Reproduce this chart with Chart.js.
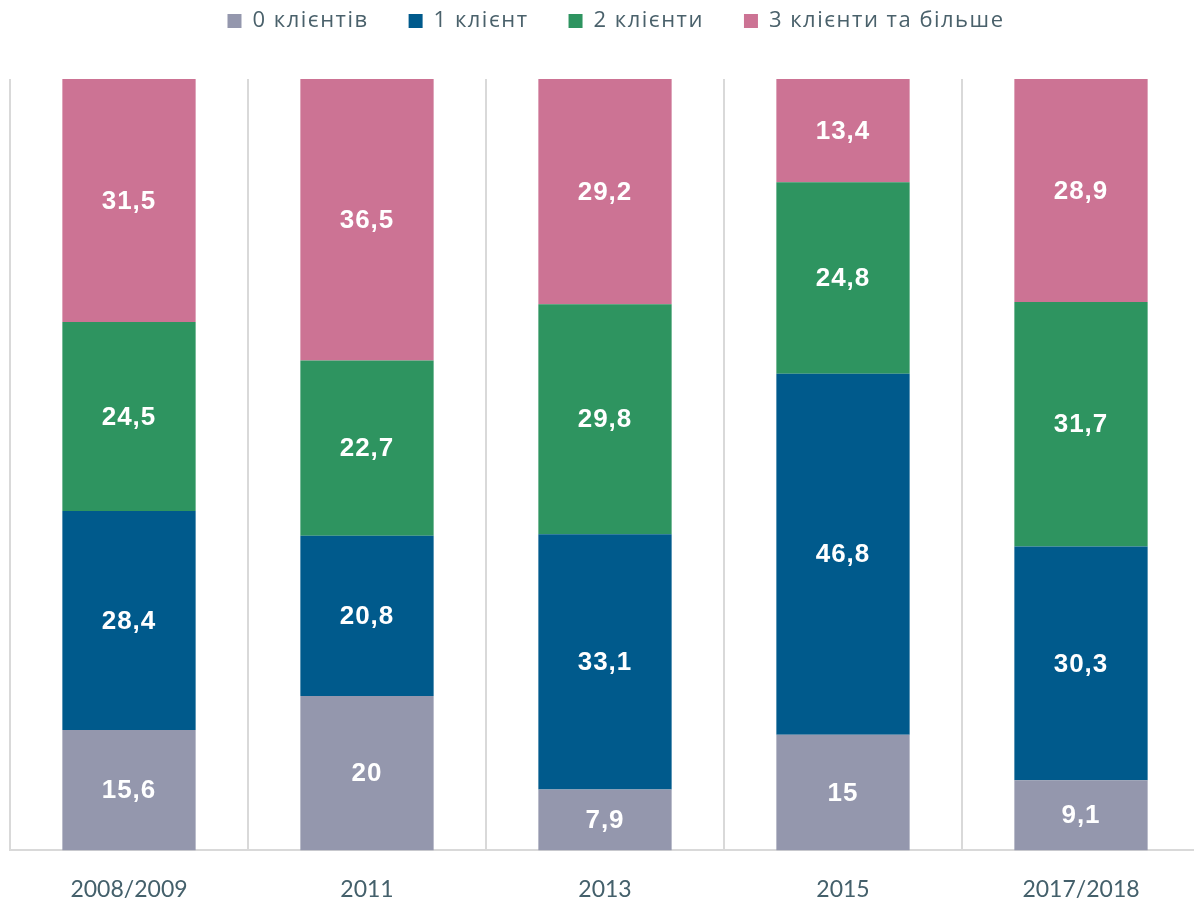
<!DOCTYPE html>
<html>
<head>
<meta charset="utf-8">
<script src="https://cdn.jsdelivr.net/npm/chart.js@4"></script>
<style>
  html, body { margin: 0; padding: 0; background: #fff; overflow: hidden; }
  #wrap { width: 1210px; height: 904px; position: relative; }
</style>
</head>
<body>
<div id="wrap"><canvas id="chart"></canvas></div>
<script>
  const years = ['2008/2009', '2011', '2013', '2015', '2017/2018'];
  const zeroClients = [15.6, 20, 7.9, 15, 9.1];
  const oneClient = [28.4, 20.8, 33.1, 46.8, 30.3];
  const twoClients = [24.5, 22.7, 29.8, 24.8, 31.7];
  const threePlus = [31.5, 36.5, 29.2, 13.4, 28.9];

  // values written inside the bars, with a comma as decimal mark
  const barLabels = {
    id: 'barLabels',
    afterDatasetsDraw(chart) {
      const ctx = chart.ctx;
      ctx.save();
      ctx.font = 'bold 26px "Liberation Sans", Arial, sans-serif';
      ctx.letterSpacing = '1px';
      ctx.fillStyle = '#ffffff';
      ctx.textAlign = 'center';
      ctx.textBaseline = 'middle';
      chart.data.datasets.forEach((ds, i) => {
        chart.getDatasetMeta(i).data.forEach((bar, j) => {
          const v = ds.data[j];
          const y = (bar.y + bar.base) / 2;
          ctx.fillText(String(v).replace('.', ','), bar.x, y + 1);
        });
      });
      ctx.restore();
    }
  };

  // wider letters in the legend, extra room under it, nudged right a little
  const legendSpace = {
    id: 'legendSpace',
    beforeInit(chart) {
      const legend = chart.legend;
      const fit = legend.fit;
      const draw = legend.draw;
      legend.fit = function () {
        this.ctx.letterSpacing = '1.5px';
        fit.call(this);
        this.ctx.letterSpacing = '0px';
        this.height += 38;
      };
      legend.draw = function () {
        this.ctx.save();
        this.ctx.translate(11, 1);
        this.ctx.letterSpacing = '1.5px';
        draw.call(this);
        this.ctx.restore();
      };
    }
  };

  const ctx = document.getElementById('chart');
  new Chart(ctx, {
    type: 'bar',
    data: {
      labels: years,
      datasets: [
        { label: '0 клієнтів', data: zeroClients, backgroundColor: '#9497ad' },
        { label: '1 клієнт', data: oneClient, backgroundColor: '#005a8c' },
        { label: '2 клієнти', data: twoClients, backgroundColor: '#2e9460' },
        { label: '3 клієнти та більше', data: threePlus, backgroundColor: '#cc7394' }
      ]
    },
    options: {
      responsive: true,
      maintainAspectRatio: false,
      animation: false,
      layout: { padding: { left: 10, right: 10, top: -31, bottom: -24 } },
      datasets: { bar: { categoryPercentage: 1, barPercentage: 0.56 } },
      plugins: {
        tooltip: { enabled: false },
        legend: {
          position: 'top',
          labels: {
            color: '#4a616b',
            font: { family: '"Open Sans", "Noto Sans", sans-serif', size: 22 },
            boxWidth: 14,
            boxHeight: 14,
            padding: 40
          }
        }
      },
      scales: {
        x: {
          stacked: true,
          grid: { offset: true, color: '#d9d9d9', lineWidth: 2, tickLength: 0 },
          border: { color: '#d9d9d9', width: 2 },
          ticks: {
            color: '#44606b',
            padding: 25,
            font: { family: 'Lato, "Noto Sans", sans-serif', size: 23 }
          }
        },
        y: {
          stacked: true,
          display: false,
          min: 0,
          max: 100
        }
      }
    },
    plugins: [barLabels, legendSpace]
  });
</script>
</body>
</html>
